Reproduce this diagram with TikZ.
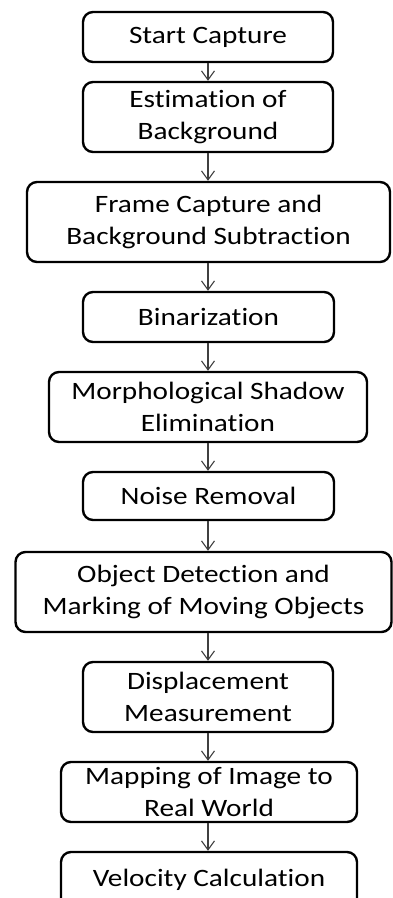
\documentclass[tikz,border=0pt]{standalone}
\usepackage{fontspec}
\setmainfont[FakeStretch=1.17,Ligatures=NoCommon]{Carlito}
\usetikzlibrary{arrows.meta}
\begin{document}
\begin{tikzpicture}[x=1pt,y=1pt,
  box/.style={draw=black, line width=2.4pt, rounded corners=10pt, fill=white,
    align=center, inner sep=0pt, font=\fontsize{25}{32}\selectfont},
  conn/.style={draw=black!75, line width=1.1pt, -{Straight Barb[length=9pt,width=13pt]}}]
\useasboundingbox (0,0) rectangle (392,-898);
\node[box, minimum width=250, minimum height=50] (b1) at (208,-37) {Start Capture};
\node[box, minimum width=250, minimum height=70] (b2) at (208,-117) {Estimation of\\Background};
\node[box, minimum width=363, minimum height=80] (b3) at (208.5,-222) {Frame Capture and\\Background Subtraction};
\node[box, minimum width=251, minimum height=50] (b4) at (208.5,-317) {Binarization};
\node[box, minimum width=318, minimum height=70] (b5) at (208,-407) {Morphological Shadow\\Elimination};
\node[box, minimum width=251, minimum height=48] (b6) at (208.5,-496) {Noise Removal};
\node[box, minimum width=376, minimum height=80] (b7) at (203.5,-592) {Object Detection and\\Marking of Moving Objects};
\node[box, minimum width=250, minimum height=70] (b8) at (208,-697) {Displacement\\Measurement};
\node[box, minimum width=296, minimum height=60] (b9) at (209,-792) {Mapping of Image to\\Real World};
\node[box, minimum width=296, minimum height=56] (b10) at (209,-880) {Velocity Calculation};
\foreach \a/\b in {b1/b2,b2/b3,b3/b4,b4/b5,b5/b6,b6/b7,b7/b8,b8/b9,b9/b10}
  \draw[conn] (208,0 |- \a.south) -- (208,0 |- \b.north);
\end{tikzpicture}
\end{document}
